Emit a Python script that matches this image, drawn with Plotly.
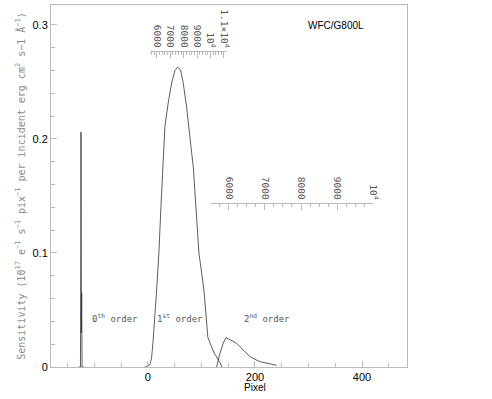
import plotly.graph_objects as go

# ---- data ----
zeroth_x = [-129, -126, -125.3, -125, -124.7, -124.2, -123.7, -123.0, -121.5, -119]
zeroth_y = [0.0, 0.0, 0.10, 0.206, 0.04, 0.03, 0.065, 0.0, 0.0, 0.0]

first_x = [-5, 0, 3.7, 6.9, 9.9, 16.3, 20.6, 24.3, 28.6, 31.8, 37.9, 44.3, 50.5, 55.5,
           61.1, 66.0, 72.3, 78.5, 81.7, 84.7, 89.7, 95.3, 104.7, 112.0, 123.0, 134.6, 138.0]
first_y = [0.0, 0.001, 0.002, 0.008, 0.024, 0.0675, 0.10, 0.14, 0.182, 0.211, 0.2315, 0.249,
           0.26, 0.263, 0.2605, 0.249, 0.228, 0.205, 0.188, 0.176, 0.14, 0.10, 0.0675, 0.026,
           0.013, 0.004, 0.0]

second_x = [128.4, 134.6, 140.8, 145.8, 153.0, 165.8, 172.0, 190.6, 209.0, 228.0, 240.5]
second_y = [0.0, 0.012, 0.021, 0.0257, 0.024, 0.0207, 0.0178, 0.009, 0.0047, 0.0026, 0.0015]

# wavelength (Angstrom) -> pixel calibration points for the two order scales
order1_wave_ref = [6000, 11000]
order1_pix_ref = [16.8, 142.1]
order2_wave_ref = [6000, 10000]
order2_pix_ref = [151.4, 420.6]

order1_range = [5500, 11150]
order2_range = [5500, 10000]
order1_ticks = [6000, 7000, 8000, 9000, 10000, 11000]
order1_labels = ["6000", "7000", "8000", "9000", "10<sup>4</sup>", "1.1×10<sup>4</sup>"]
order2_ticks = [6000, 7000, 8000, 9000, 10000]
order2_labels = ["6000", "7000", "8000", "9000", "10<sup>4</sup>"]

x_range = [-181, 484]
y_range = [0, 0.3175]

GRAY = "#bbbbbb"
TXT = "#555555"
MONO = "DejaVu Sans Mono"


def w2p(w, wref, pref):
    k = (pref[1] - pref[0]) / (wref[1] - wref[0])
    return pref[0] + (w - wref[0]) * k


def frac(p):
    return (p - x_range[0]) / (x_range[1] - x_range[0])


fig = go.Figure()
line = dict(color="#333333", width=0.8)
fig.add_trace(go.Scatter(x=zeroth_x, y=zeroth_y, mode="lines", line=line, showlegend=False))
fig.add_trace(go.Scatter(x=first_x, y=first_y, mode="lines", line=line, showlegend=False))
fig.add_trace(go.Scatter(x=second_x, y=second_y, mode="lines", line=line, showlegend=False))
# dummy traces to attach the wavelength axes
fig.add_trace(go.Scatter(x=[None], y=[None], xaxis="x2", yaxis="y", showlegend=False, hoverinfo="skip"))
fig.add_trace(go.Scatter(x=[None], y=[None], xaxis="x3", yaxis="y", showlegend=False, hoverinfo="skip"))

d1 = [frac(w2p(w, order1_wave_ref, order1_pix_ref)) for w in order1_range]
d2 = [frac(w2p(w, order2_wave_ref, order2_pix_ref)) for w in order2_range]

wave_axis_common = dict(
    anchor="free", side="top", showline=True, linecolor=GRAY, linewidth=1,
    ticks="inside", ticklen=6, tickcolor=GRAY, tickangle=90, showgrid=False,
    zeroline=False, tickfont=dict(family=MONO, size=9.5, color=TXT), tickmode="array",
    ticklabeloverflow="allow",
)

fig.update_layout(
    width=492, height=399,
    margin=dict(l=51, r=85, t=5, b=32),
    plot_bgcolor="rgba(0,0,0,0)", paper_bgcolor="white",
    xaxis=dict(range=x_range, showline=True, mirror=True, linecolor=GRAY, linewidth=1,
               ticks="inside", ticklen=6, tickcolor=GRAY, tickvals=[0, 200, 400],
               tickfont=dict(family="Liberation Sans", size=11, color="black"),
               minor=dict(dtick=50, tick0=0, ticks="inside", ticklen=4, tickcolor=GRAY),
               showgrid=False, zeroline=False),
    yaxis=dict(range=y_range, showline=True, mirror=True, linecolor=GRAY, linewidth=1,
               ticks="inside", ticklen=6, tickcolor=GRAY, tickvals=[0, 0.1, 0.2, 0.3],
               ticktext=["0", "0.1", "0.2", "0.3"],
               tickfont=dict(family="Liberation Sans", size=11, color="black"),
               minor=dict(dtick=0.02, tick0=0, ticks="inside", ticklen=4, tickcolor=GRAY),
               showgrid=False, zeroline=False,
               title=dict(text="Sensitivity (10<sup>17</sup> e<sup>−1</sup> s<sup>−1</sup> pix<sup>−1</sup> per incident erg cm<sup>2</sup> s−1 Å<sup>−1</sup>)",
                          font=dict(family=MONO, size=10, color="#8a8a8a"), standoff=5)),
    xaxis2=dict(domain=d1, range=order1_range, position=0.873,
                tickvals=order1_ticks, ticktext=order1_labels,
                minor=dict(dtick=200, tick0=5000, ticks="inside", ticklen=3, tickcolor=GRAY),
                **wave_axis_common),
    xaxis3=dict(domain=d2, range=order2_range, position=0.453,
                tickvals=order2_ticks, ticktext=order2_labels,
                minor=dict(dtick=250, tick0=5000, ticks="inside", ticklen=3, tickcolor=GRAY),
                **wave_axis_common),
)

ann_font = dict(family=MONO, size=9, color=TXT)
fig.add_annotation(x=-62, y=0.043, xref="x", yref="y", text="0<sup>th</sup> order",
                   showarrow=False, font=ann_font)
fig.add_annotation(x=60, y=0.043, xref="x", yref="y", text="1<sup>st</sup> order",
                   showarrow=False, font=ann_font)
fig.add_annotation(x=222, y=0.043, xref="x", yref="y", text="2<sup>nd</sup> order",
                   showarrow=False, font=ann_font)
fig.add_annotation(x=0.885, y=0.964, xref="paper", yref="paper", text="WFC/G800L",
                   showarrow=False, font=dict(family="Liberation Sans", size=10, color="black"))
fig.add_annotation(x=0.573, y=-0.0555, xref="paper", yref="paper", yanchor="middle",
                   text="Pixel", showarrow=False,
                   font=dict(family="Liberation Sans", size=10, color="black"))

fig.write_html("out.html")
